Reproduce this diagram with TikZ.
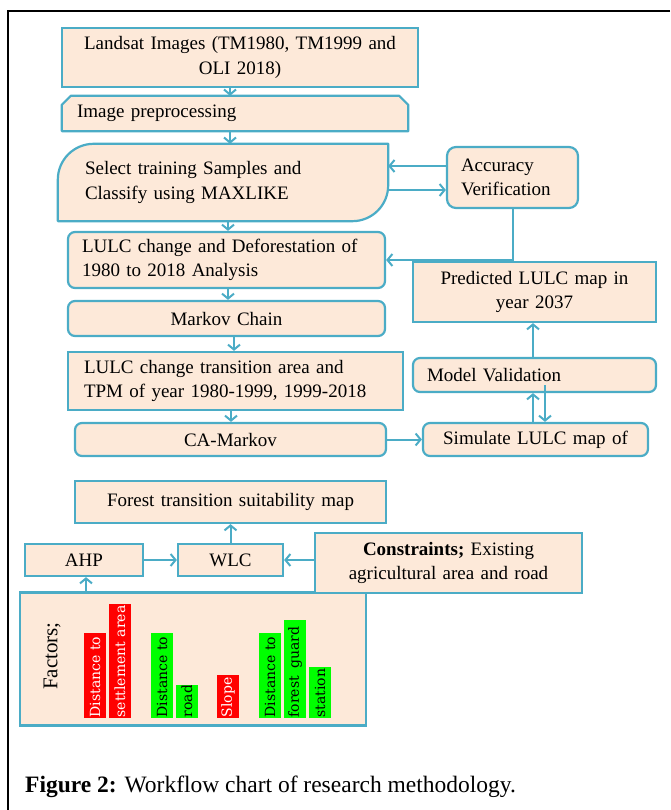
\documentclass[tikz,border=0pt]{standalone}
\usepackage{fontspec}
\setmainfont{Liberation Serif}
\newfontfamily\barfont{DejaVu Serif}
\usetikzlibrary{arrows.meta,calc,backgrounds}
\definecolor{bc}{HTML}{4BACC6}
\definecolor{pe}{HTML}{FDE9D9}
\definecolor{barred}{HTML}{FF0000}
\definecolor{bargreen}{HTML}{00FF00}
\begin{document}
\begin{tikzpicture}[x=1pt,y=-1pt,
  every node/.style={font=\fontsize{19}{24.5}\selectfont},
  bx/.style={draw=bc, fill=pe, line width=2.2pt, inner sep=0pt, align=center},
  rbx/.style={bx, rounded corners=7pt},
  tx/.style={inner sep=0pt, align=left},
  shp/.style={draw=bc, fill=pe, line width=2.2pt, line join=round},
  arr/.style={draw=bc, line width=2pt, -{Straight Barb[length=5pt,width=12pt]}},
  bartxt/.style={rotate=90, anchor=west, inner sep=0pt, font=\barfont\fontsize{14}{16}\selectfont}]
\useasboundingbox (0,0) rectangle (670,810);
\draw[line width=1.5pt] (670,11) -- (8,11) -- (8,810);

% boxes
\node[bx, text width=356pt, minimum height=59pt] (land) at (240,57.5) {Landsat Images (TM1980, TM1999 and\\ OLI 2018)};
\node[tx, inner xsep=15pt, text width=316pt, minimum height=35pt] (pre) at (235,113.5) {Image preprocessing};
\node[tx, inner xsep=27pt, text width=276pt, minimum height=77pt] (sel) at (223,182.5) {Select training Samples and\\ Classify using MAXLIKE};
\node[rbx, align=left, inner xsep=14pt, text width=103pt, minimum height=61pt, rounded corners=9pt] (acc) at (512.5,177.5) {Accuracy\\ Verification};
\node[rbx, align=left, inner xsep=14pt, text width=289pt, minimum height=56pt] (lulc) at (226.5,260) {LULC change and Deforestation of\\ 1980 to 2018 Analysis};
\node[rbx, text width=317pt, minimum height=35pt] (mark) at (226.5,318.5) {Markov Chain};
\node[bx, align=left, inner xsep=16pt, text width=303pt, minimum height=58pt] (tpm) at (235.5,381) {LULC change transition area and\\ TPM of year 1980-1999, 1999-2018};
\node[rbx, text width=311pt, minimum height=33pt] (ca) at (230.5,439.5) {CA-Markov};
\node[rbx, text width=225pt, minimum height=33pt] (sim) at (535.5,439.5) {Simulate LULC map of};
\node[rbx, align=left, inner xsep=14pt, text width=215pt, minimum height=34pt] (mv) at (534.5,375) {Model Validation};
\node[bx, text width=243pt, minimum height=60pt] (pred) at (534.5,292) {Predicted LULC map in\\ year 2037};
\node[bx, text width=311pt, minimum height=42pt] (fts) at (230.5,502) {Forest transition suitability map};
\node[bx, text width=105pt, minimum height=32pt] (wlc) at (230.5,560) {WLC};
\node[bx, text width=118pt, minimum height=32pt] (ahp) at (84,560) {AHP};
\node[bx, text width=346pt, minimum height=133pt] (fac) at (193,659) {};
\node[bx, text width=267pt, minimum height=60pt] (con) at (448.5,563) {\textbf{Constraints;} Existing\\ agricultural area and road};

% special shapes
\begin{scope}[on background layer]
\draw[shp] (pre.south west) -- ($(pre.north west)+(0,9)$) -- ($(pre.north west)+(9,0)$)
  -- ($(pre.north east)+(-9,0)$) -- ($(pre.north east)+(0,9)$) -- (pre.south east) -- cycle;
\draw[shp] (sel.south west) -- ($(sel.north west)+(0,36)$)
  .. controls ($(sel.north west)+(0,16)$) and ($(sel.north west)+(16,0)$) .. ($(sel.north west)+(36,0)$)
  -- (sel.north east) -- ($(sel.south east)+(0,-36)$)
  .. controls ($(sel.south east)+(0,-16)$) and ($(sel.south east)+(-16,0)$) .. ($(sel.south east)+(-36,0)$)
  -- cycle;
\end{scope}

% factors
\node[rotate=90, inner sep=0pt, font=\fontsize{21}{24}\selectfont] (factxt) at (52,656) {Factors;};
\begin{scope}
\clip (84,633) rectangle (106,718);
\fill[barred] (84,633) rectangle (106,718);
\node[bartxt, text=white] (b1) at (95,717.5) {Distance to};
\end{scope}
\begin{scope}
\clip (109,604) rectangle (131,718);
\fill[barred] (109,604) rectangle (131,718);
\node[bartxt, text=white] (b2) at (120,717.5) {settlement area};
\end{scope}
\begin{scope}
\clip (151,633) rectangle (173,718);
\fill[bargreen] (151,633) rectangle (173,718);
\node[bartxt] (b3) at (162,717.5) {Distance to};
\end{scope}
\begin{scope}
\clip (176,685) rectangle (198,718);
\fill[bargreen] (176,685) rectangle (198,718);
\node[bartxt] (b4) at (187,717.5) {road};
\end{scope}
\begin{scope}
\clip (217,675) rectangle (239,718);
\fill[barred] (217,675) rectangle (239,718);
\node[bartxt, text=white] (b5) at (228,717.5) {Slope};
\end{scope}
\begin{scope}
\clip (259,633) rectangle (281,718);
\fill[bargreen] (259,633) rectangle (281,718);
\node[bartxt] (b6) at (270,717.5) {Distance to};
\end{scope}
\begin{scope}
\clip (284,620) rectangle (306,718);
\fill[bargreen] (284,620) rectangle (306,718);
\node[bartxt] (b7) at (295,717.5) {forest\hspace{7pt}guard};
\end{scope}
\begin{scope}
\clip (309,667) rectangle (331,718);
\fill[bargreen] (309,667) rectangle (331,718);
\node[bartxt] (b8) at (320,717.5) {station};
\end{scope}

% caption
\node[anchor=base west, inner sep=0pt, font=\fontsize{23.5}{27}\selectfont] (cap) at (25,792) {\textbf{Figure 2:} Workflow chart of research methodology.};

% connectors
\coordinate (x230) at (230,0);
\coordinate (x228) at (228,0);
\coordinate (x234) at (234,0);
\coordinate (x231) at (231,0);
\coordinate (x533) at (533,0);
\coordinate (x545) at (545,0);
\coordinate (x86) at (86,0);
\coordinate (y166) at (0,166);
\coordinate (y190) at (0,190);
\coordinate (y385) at (0,385);
\draw[arr] (land.south -| x230) -- (pre.north -| x230);
\draw[arr] (pre.south -| x230) -- (sel.north -| x230);
\draw[arr] (sel.south -| x228) -- (lulc.north -| x228);
\draw[arr] (lulc.south -| x228) -- (mark.north -| x228);
\draw[arr] (mark.south -| x234) -- (tpm.north -| x234);
\draw[arr] (tpm.south -| x231) -- (ca.north -| x231);
\draw[arr] (acc.west |- y166) -- (sel.east |- y166);
\draw[arr] (sel.east |- y190) -- (acc.west |- y190);
\draw[arr] (acc.south) -- (acc.south |- lulc.east) -- (lulc.east);
\draw[arr] (mv.north -| x533) -- (pred.south -| x533);
\draw[arr] (sim.north -| x533) -- (mv.south -| x533);
\draw[arr] (x545 |- y385) -- (sim.north -| x545);
\draw[arr] (ca.east) -- (sim.west);
\draw[arr] (wlc.north) -- (fts.south);
\draw[arr] (ahp.east) -- (wlc.west);
\draw[arr] (con.west |- wlc.east) -- (wlc.east);
\draw[arr] (fac.north -| x86) -- (ahp.south -| x86);
\end{tikzpicture}
\end{document}
